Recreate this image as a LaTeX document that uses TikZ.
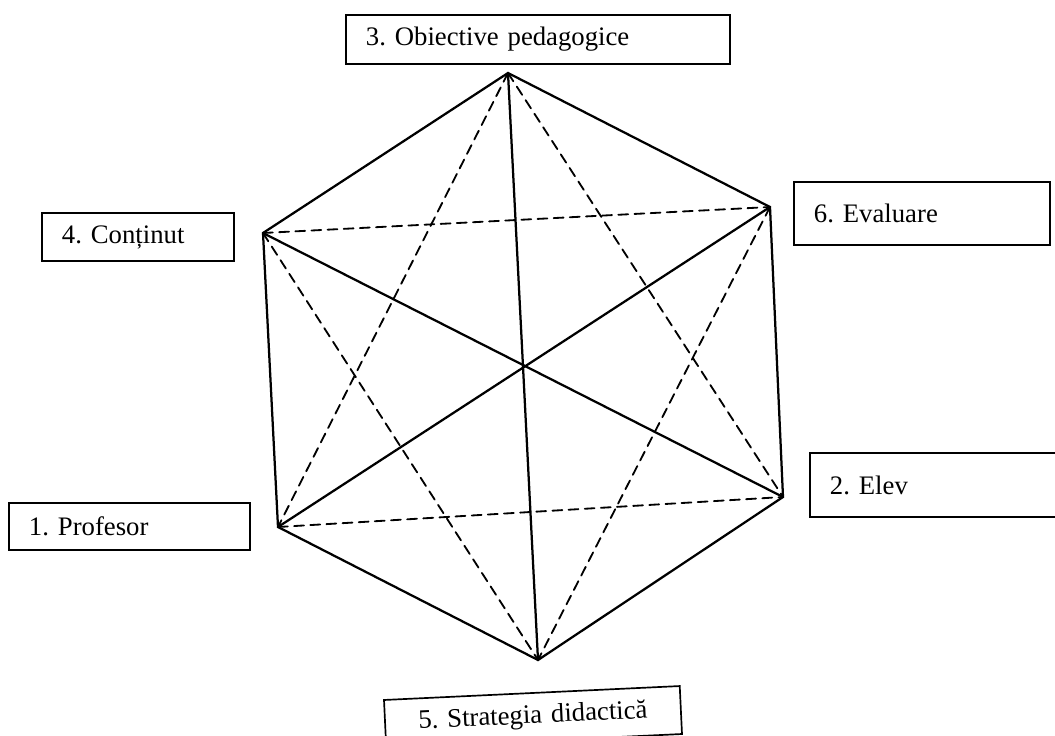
\documentclass[tikz,border=0pt]{standalone}
\usepackage{fontspec}
\setmainfont{Liberation Serif}
\frenchspacing
\begin{document}
\begin{tikzpicture}[x=0.025cm, y=-0.025cm, line cap=round,
                    every node/.style={draw, rectangle, line width=1.2pt, inner xsep=0.5cm, align=left, font=\fontsize{19}{22}\selectfont},
                    full/.style={line width=1.6pt},
                    dashline/.style={line width=1.3pt, dash pattern=on 7pt off 4.5pt}]
                    \useasboundingbox (0,0) rectangle (1055,736);
                    \clip (0,0) rectangle (1055,736);
                    % corners of the hexagon and its middle
                    \coordinate (v3) at (508,73);
                    \coordinate (v6) at (770,207);
                    \coordinate (v2) at (783,497);
                    \coordinate (v5) at (538,660);
                    \coordinate (v1) at (278,527);
                    \coordinate (v4) at (263,233);
                    \coordinate (c) at (523,367);
                    % labels
                    \node (obiective) at (538,39.5) [text width=8.6cm, minimum height=1.225cm] {3. Obiective pedagogice};
                    \node (evaluare) at (922,213.5) [text width=5.4cm, minimum height=1.575cm] {6. Evaluare};
                    \node (continut) at (138,237) [text width=3.8cm, minimum height=1.2cm] {4. Conținut};
                    \node (elev) at (937.5,485) [text width=5.375cm, minimum height=1.6cm] {2. Elev};
                    \node (profesor) at (129.5,526.5) [text width=5.025cm, minimum height=1.175cm] {1. Profesor};
                    \node (strategia) at (533,717) [text width=6.4cm, minimum height=1.2cm, align=center, rotate=2.7] {5. Strategia didactică};
                    % sides and long diagonals
                    \draw[full] (v3) -- (v6) -- (v2) -- (v5) -- (v1) -- (v4) -- cycle;
                    \draw[full] (v3) -- (v5); \draw[full] (v4) -- (v2); \draw[full] (v6) -- (v1);
                    % short diagonals
                    \draw[dashline] (v3) -- (v1); \draw[dashline] (v3) -- (v2); \draw[dashline] (v1) -- (v2);
                    \draw[dashline] (v4) -- (v6); \draw[dashline] (v4) -- (v5); \draw[dashline] (v6) -- (v5);
                \end{tikzpicture}
\end{document}
